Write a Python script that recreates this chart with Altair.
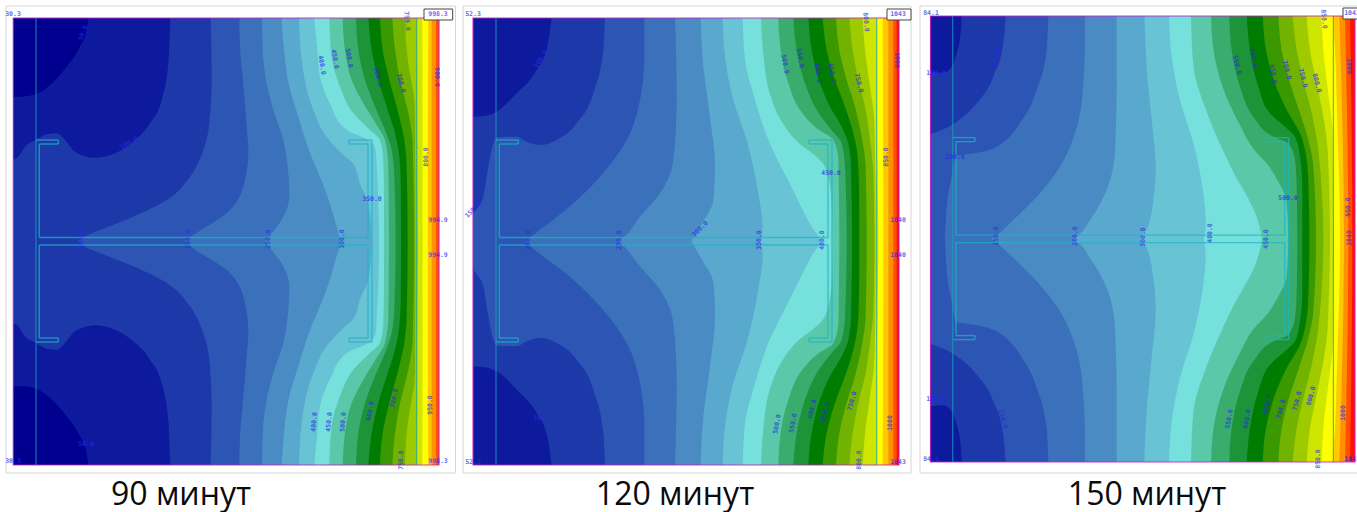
import altair as alt
import pandas as pd

COL = ["#00008f","#0e1a9e","#1d38a9","#2d55b3","#3b70bb","#4a8bc4","#59a8cd","#68c3d5","#76e0dd",
       "#5ac8a9","#3aad6e","#1e9439","#007d00","#3a9800","#72b200","#9ecb00","#cfe600","#ffff00",
       "#ffc800","#ff9000","#ff5000","#ff1000"]

# panel frames: left, right, top, bottom, base colour index, steel shift
FRAMES = [(13.3,439,18,465,2,0,0),(473,899,18,465,3,460,0),(930.5,1355,16,462,4,916.7,-2.4)]
CARDS = [(6,455.5,6,473),(463,911,6,473),(920,1365,6,473)]

# Cool corner regions, read as (x, y) in 3x crops with x offset
B1 = [(0,0,[(40,290),(60,290),(108,283),(150,255),(200,200),(240,140),(258,100),(265,54)]),
      (0,1,[(40,480),(55,470),(75,440),(108,420),(140,403),(170,400),(195,420),(225,455),(285,473),(340,462),(400,425),(450,370),(485,300),(505,190),(511,54)])]
B2 = [(460,1,[(40,350),(70,348),(110,335),(170,280),(230,210),(262,140),(275,54)]),
      (460,2,[(40,640),(55,620),(70,590),(85,500),(100,430),(110,412),(170,410),(200,425),(240,435),(290,420),(350,370),(400,280),(430,150),(435,54)])]
B3 = [(920,3,[(31,717),(74,717),(78,650),(95,530),(108,468),(160,460),(230,440),(300,370),(350,270),(380,150),(385,48)]),
      (920,2,[(31,402),(60,392),(100,372),(170,310),(220,230),(250,130),(257,48)]),
      (920,1,[(31,215),(70,218),(95,200),(110,160),(122,100),(125,48)])]
# reorder: outer first
BLOBS = [B1[::-1], B2[::-1], B3]

# Isotherm boundaries: (offset, colour index to the right, points top→centre in 3x crop px)
H1 = [
 (0,3,[(632,54),(635,230),(628,370),(610,450),(570,530),(500,600),(400,650),(300,690),(250,712),(235,723)]),
 (230,4,[(28,54),(30,144),(38,234),(50,380),(55,450),(45,540),(0,630),(-120,712),(-135,723)]),
 (230,5,[(96,54),(98,150),(110,250),(130,330),(160,420),(175,520),(178,590),(160,650),(115,712),(105,723)]),
 (230,6,[(155,54),(162,150),(178,261),(205,350),(230,432),(290,582),(320,681),(330,723)]),
 (230,7,[(207,54),(215,180),(250,330),(290,411),(340,465),(370,492),(390,552),(415,612),(425,723)]),
 (230,8,[(253,54),(262,150),(270,231),(300,312),(350,390),(415,420),(437,450),(440,500),(445,600),(447,723)]),
 (230,9,[(298,54),(305,170),(330,260),(370,340),(420,390),(450,420),(460,480),(462,600),(462,723)]),
 (230,10,[(338,54),(345,150),(365,240),(400,310),(440,375),(465,420),(475,500),(477,723)]),
 (230,11,[(378,54),(385,150),(405,240),(435,320),(465,390),(485,450),(493,530),(497,723)]),
 (230,12,[(415,54),(425,150),(445,240),(470,320),(495,400),(508,470),(512,550),(513,723)]),
 (230,13,[(450,54),(458,150),(478,240),(505,340),(523,420),(530,500),(533,723)]),
 (230,14,[(487,54),(495,150),(510,240),(535,340),(548,430),(552,723)]),
 (230,15,[(525,54),(530,150),(543,240),(553,300),(555,350),(556,723)]),
 (230,16,[(560,54),(561,300),(563,723)]),
 (230,17,[(577,54),(578,723)]),
 (230,18,[(595,54),(593,723)]),
 (230,19,[(605,54),(605,723)]),
 (230,20,[(618,54),(618,723)]),
]
H2 = [
 (460,4,[(553,54),(553,170),(540,300),(500,420),(420,530),(340,610),(210,712),(195,723)]),
 (460,5,[(645,54),(650,300),(640,480),(600,580),(540,650),(490,712),(475,723)]),
 (690,6,[(32,54),(40,200),(60,350),(75,500),(70,600),(30,680),(12,712),(5,723)]),
 (690,7,[(98,54),(105,170),(130,300),(170,420),(205,582),(218,681),(215,712),(210,723)]),
 (690,8,[(158,54),(165,180),(190,282),(240,432),(300,552),(365,681),(390,723)]),
 (690,9,[(213,54),(220,162),(240,282),(280,372),(330,432),(370,462),(400,492),(415,531),(425,600),(428,723)]),
 (690,10,[(265,54),(272,150),(295,250),(330,330),(380,385),(430,420),(445,480),(447,600),(448,723)]),
 (690,11,[(310,54),(320,150),(345,250),(380,330),(420,385),(455,430),(465,500),(470,723)]),
 (690,12,[(355,54),(365,150),(390,250),(420,320),(455,380),(475,430),(483,500),(486,723)]),
 (690,13,[(398,54),(410,150),(435,240),(465,320),(490,400),(503,470),(507,560),(508,723)]),
 (690,14,[(438,54),(448,150),(470,240),(495,320),(515,410),(527,500),(530,723)]),
 (690,15,[(478,54),(488,150),(505,240),(525,320),(540,420),(550,520),(553,723)]),
 (690,16,[(518,54),(525,150),(540,260),(552,350),(555,450),(557,723)]),
 (690,17,[(560,54),(561,400),(565,723)]),
 (690,18,[(578,54),(580,723)]),
 (690,19,[(595,54),(595,723)]),
 (690,20,[(610,54),(610,723)]),
 (690,21,[(620,54),(620,723)]),
]
H3 = [
 (920,5,[(495,48),(495,100),(490,250),(465,400),(420,500),(350,590),(280,660),(230,706),(215,717)]),
 (920,6,[(590,48),(590,250),(585,450),(560,570),(510,660),(475,706),(460,717)]),
 (1140,7,[(13,48),(20,200),(35,360),(47,500),(40,600),(20,690),(5,706),(0,717)]),
 (1140,8,[(87,48),(95,170),(120,300),(160,430),(190,580),(197,666),(195,700),(192,717)]),
 (1140,9,[(153,48),(160,196),(200,336),(270,496),(355,666),(365,717)]),
 (1140,10,[(213,48),(220,146),(250,266),(300,376),(340,446),(385,496),(410,536),(440,606),(445,717)]),
 (1140,11,[(268,48),(275,150),(300,260),(340,350),(400,410),(445,430),(465,480),(470,560),(472,717)]),
 (1140,12,[(320,48),(330,150),(355,260),(390,340),(440,385),(465,410),(480,470),(487,560),(487,717)]),
 (1140,13,[(368,48),(378,150),(405,250),(440,330),(480,400),(497,460),(505,540),(508,717)]),
 (1140,14,[(415,48),(425,150),(450,250),(480,340),(505,420),(520,500),(528,717)]),
 (1140,15,[(458,48),(470,150),(490,240),(515,340),(535,450),(550,717)]),
 (1140,16,[(500,48),(510,150),(530,250),(550,350),(563,450),(570,717)]),
 (1140,17,[(545,48),(550,150),(565,280),(578,400),(582,717)]),
 (1140,18,[(578,48),(585,150),(590,300),(600,717)]),
 (1140,19,[(598,48),(612,717)]),
 (1140,20,[(615,48),(625,717)]),
 (1140,21,[(630,48),(637,717)]),
]
HBANDS = [H1, H2, H3]

# Steel section outline (first panel), drawn in every panel with its shift
STEEL = [(36,140,58.3,140),(58.3,140,58.3,144),(39.3,144,58.3,144),(39.3,144,39.3,237.5),
         (39.3,245,39.3,338),(39.3,338,58.3,338),(58.3,338,58.3,342),(36,342,58.3,342),
         (39.3,237.5,368,237.5),(39.3,245,368,245),(349,140,372,140),(349,140,349,144),(349,144,368,144),
         (368,144,368,237.5),(368,245,368,338),(349,338,368,338),(349,338,349,342),(349,342,372,342),(372,140,372,342)]
VERT_LINES = [36, 416.7]

TITLES = [("90 минут",181),("120 минут",675),("150 минут",1147)]

LABELS = [
 ("30.3",13,14,0),("50.0",83,33,290),("100.0",129,143,330),("100.0",81,239,270),("200.0",188,239,270),
 ("250.0",268,239,270),("300.0",342,239,270),("400.0",322,65,80),("450.0",335,59,80),("500.0",349,58,80),
 ("600.0",378,77,75),("700.0",401,83,75),("750.0",407,21,85),("900.0",437,77,90),("800.0",426,157,270),
 ("350.0",372,199,0),("994.9",438,220,0),("994.9",438,255,0),("998.3",438,14,0),("30.3",13,461,0),
 ("50.0",86,444,0),("400.0",314,422,275),("450.0",329,422,275),("500.0",343,422,275),("600.0",370,411,280),
 ("700.0",394,398,280),("950.0",430,405,270),("750.0",401,460,270),("998.3",438,461,0),
 ("52.3",473,14,0),("100.0",541,59,300),("150.0",473,210,315),("200.0",528,240,270),("250.0",619,240,270),
 ("300.0",700,229,315),("350.0",759,240,270),("400.0",822,240,270),("450.0",831,173,0),("500.0",785,64,80),
 ("550.0",800,58,80),("600.0",818,73,80),("650.0",832,73,80),("750.0",859,83,75),("800.0",866,22,85),
 ("1000",897,60,90),("850.0",886,157,270),("1040",898,220,0),("1040",898,255,0),("1043",898,14,0),
 ("100.0",543,418,0),("52.3",473,462,0),("500.0",777,424,280),("550.0",793,423,280),("600.0",812,409,285),
 ("650.0",825,412,285),("750.0",852,401,285),("800.0",859,460,270),("1000",890,423,270),("1043",898,462,0),
 ("84.1",931,13,0),("100.0",936,73,0),("150.0",997,57,285),("200.0",955,157,0),("150.0",996,236,270),
 ("200.0",1075,236,270),("300.0",1143,237,270),("400.0",1210,233,270),("450.0",1266,239,270),("500.0",1288,198,0),
 ("550.0",1237,65,75),("600.0",1253,58,80),("650.0",1273,74,80),("700.0",1287,70,75),("750.0",1303,78,75),
 ("800.0",1317,83,75),("850.0",1324,19,85),("1000",1349,66,90),("950.0",1348,207,270),("1040",1349,238,270),
 ("1043",1352,13,0),("84.1",931,459,0),("100.0",936,399,0),("150.0",1003,419,75),("550.0",1229,419,280),
 ("600.0",1247,419,280),("650.0",1267,404,280),("700.0",1281,409,285),("750.0",1297,401,285),("800.0",1311,396,285),
 ("850.0",1318,459,270),("1000",1343,413,270),("1043",1352,459,0),
]
BOXES = [(424,452.7,9,20),(887,911,9,20),(1343,1365,8,19)]

h_rows, v_rows, bases, seg_rows, card_rows = [], [], [], [], []
for c in CARDS:
    card_rows.append(dict(x=c[0], x2=c[1], y=c[2], y2=c[3]))
for i, (L, R, T, Bm, base, dx, dy) in enumerate(FRAMES):
    mid = (T + Bm) / 2
    bases.append(dict(x=L, x2=R, y=T, y2=Bm, color=COL[base]))
    for j, (off, ci, pts) in enumerate(BLOBS[i]):
        for cx, cy in pts:
            y = max(cy / 3, T)
            xv = max(cx / 3 + off, L)
            v_rows.append(dict(band=f"p{i}b{j}t", x=xv, y=y, y2=T, color=COL[ci]))
        for cx, cy in pts:
            y = 2 * mid - max(cy / 3, T)
            xv = max(cx / 3 + off, L)
            v_rows.append(dict(band=f"p{i}b{j}u", x=xv, y=y, y2=Bm, color=COL[ci]))
    for j, (off, ci, pts) in enumerate(HBANDS[i]):
        name = f"p{i}h{j:02d}"
        P = [(cx / 3 + off, max(cy / 3, T)) for cx, cy in pts]
        # the top half is read; the section is symmetric about its web
        full = P + [(x, 2 * mid - y) for x, y in P[-2::-1]]
        for x, y in full:
            h_rows.append(dict(band=name, x=x, x2=R, y=y, color=COL[ci]))
    for (x1, y1, x2, y2) in STEEL:
        seg_rows.append(dict(x=x1 + dx, x2=x2 + dx, y=y1 + dy, y2=y2 + dy, w=1.4, col="#1db4c6"))
    for vx in VERT_LINES:
        seg_rows.append(dict(x=vx + dx, x2=vx + dx, y=T, y2=Bm, w=1.2, col="#1a9fbb"))

X = alt.X("x:Q", scale=alt.Scale(domain=[0, 1357], nice=False, zero=False), axis=None)
Y = alt.Y("y:Q", scale=alt.Scale(domain=[0, 512], nice=False, zero=False, reverse=True), axis=None)
CNONE = alt.Color("color:N", scale=None, legend=None)

cards = alt.Chart(pd.DataFrame(card_rows)).mark_rect(fill="white", stroke="#d6d6d6", strokeWidth=1).encode(
    x=X, x2="x2:Q", y=Y, y2="y2:Q")
base = alt.Chart(pd.DataFrame(bases)).mark_rect().encode(x=X, x2="x2:Q", y=Y, y2="y2:Q", color=CNONE)
blobs = alt.Chart(pd.DataFrame(v_rows)).mark_area(orient="vertical", interpolate="monotone").encode(
    x=X, y=Y, y2="y2:Q", color=CNONE, detail="band:N")
bands = alt.Chart(pd.DataFrame(h_rows)).mark_area(orient="horizontal", interpolate="monotone").encode(
    x=X, x2="x2:Q", y=Y, color=CNONE, detail="band:N")
steel = alt.Chart(pd.DataFrame(seg_rows)).mark_rule(opacity=0.72).encode(
    x=X, x2="x2:Q", y=Y, y2="y2:Q",
    color=alt.Color("col:N", scale=None, legend=None), strokeWidth=alt.StrokeWidth("w:Q", scale=None, legend=None))
frame = alt.Chart(pd.DataFrame(bases)).mark_rect(fill=None, stroke="#c41fc4", strokeWidth=1.2, opacity=0.85).encode(
    x=X, x2="x2:Q", y=Y, y2="y2:Q")
boxes = alt.Chart(pd.DataFrame(BOXES, columns=["x", "x2", "y", "y2"])).mark_rect(
    fill="white", stroke="#444444", strokeWidth=1).encode(x=X, x2="x2:Q", y=Y, y2="y2:Q")
lab = alt.Chart(pd.DataFrame(LABELS, columns=["t", "x", "y", "a"])).mark_text(
    font="DejaVu Sans Mono", fontSize=6.5, fontWeight="bold", color="#2a2ae6", opacity=0.7, align="center", baseline="middle"
).encode(x=X, y=Y, text="t:N", angle=alt.Angle("a:Q", scale=None))
tit = alt.Chart(pd.DataFrame([dict(t=t, x=x, y=504.5) for t, x in TITLES])).mark_text(
    font="Open Sans", fontSize=32, color="#0a0a0a", align="center", baseline="alphabetic"
).encode(x=X, y=Y, text="t:N")

chart = alt.layer(cards, base, blobs, bands, steel, frame, boxes, lab, tit).properties(
    width=1357, height=512, padding=0, autosize=alt.AutoSizeParams(type="none")
).configure_view(stroke=None)

chart.save("out.html", embed_options={"renderer": "svg", "actions": False,
                                      "defaultStyle": "body{margin:0;background:#eceef2;overflow:hidden}"})
